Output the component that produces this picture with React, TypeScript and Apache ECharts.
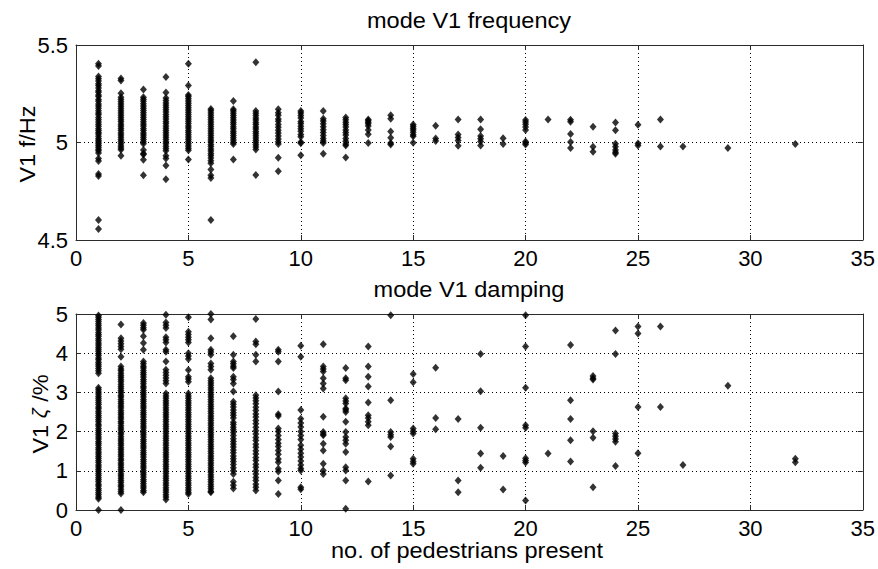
import React, { useEffect, useRef } from "react";
import * as echarts from "echarts";

// x positions (no. of pedestrians present) for each group of readings
const freqColumns = [1, 2, 3, 4, 5, 6, 7, 8, 9, 10, 11, 12, 13, 14, 15, 16, 17, 18, 19, 20, 21, 22, 23, 24, 25, 26, 27, 29, 32];
// mode V1 frequency readings (Hz) per column
const freqValues: number[][] = [
  [5.404, 5.392, 5.338, 5.327, 5.315, 5.301, 5.292, 5.279, 5.266, 5.258, 5.243, 5.236, 5.221, 5.212, 5.198, 5.187, 5.176, 5.163, 5.151, 5.142, 5.128, 5.117, 5.105, 5.094, 5.083, 5.071, 5.062, 5.051, 5.043, 5.032, 5.021, 5.012, 5.003, 4.994, 4.985, 4.976, 4.966, 4.958, 4.946, 4.918, 4.905, 4.838, 4.828, 4.602, 4.556],
  [5.328, 5.318, 5.252, 5.232, 5.221, 5.209, 5.197, 5.186, 5.174, 5.163, 5.151, 5.14, 5.128, 5.117, 5.106, 5.094, 5.083, 5.072, 5.061, 5.049, 5.038, 5.027, 5.016, 5.005, 4.994, 4.982, 4.972, 4.963, 4.932],
  [5.272, 5.232, 5.222, 5.211, 5.199, 5.187, 5.176, 5.164, 5.153, 5.141, 5.13, 5.118, 5.106, 5.095, 5.084, 5.072, 5.061, 5.049, 5.038, 5.027, 5.015, 5.004, 4.993, 4.962, 4.944, 4.938, 4.912, 4.832],
  [5.336, 5.257, 5.228, 5.216, 5.203, 5.191, 5.179, 5.168, 5.156, 5.143, 5.132, 5.12, 5.108, 5.097, 5.085, 5.073, 5.062, 5.05, 5.039, 5.027, 5.016, 5.004, 4.993, 4.981, 4.969, 4.958, 4.932, 4.918, 4.882, 4.812],
  [5.404, 5.292, 5.244, 5.236, 5.225, 5.213, 5.201, 5.19, 5.178, 5.167, 5.155, 5.144, 5.132, 5.12, 5.109, 5.097, 5.085, 5.074, 5.062, 5.051, 5.04, 5.028, 5.017, 5.005, 4.994, 4.982, 4.971, 4.96, 4.913],
  [5.172, 5.163, 5.151, 5.14, 5.128, 5.117, 5.105, 5.094, 5.082, 5.071, 5.059, 5.048, 5.036, 5.025, 5.013, 5.002, 4.99, 4.979, 4.967, 4.956, 4.944, 4.933, 4.921, 4.906, 4.893, 4.862, 4.832, 4.818, 4.602],
  [5.213, 5.171, 5.162, 5.15, 5.139, 5.127, 5.116, 5.104, 5.093, 5.081, 5.07, 5.058, 5.047, 5.036, 5.024, 5.013, 5.001, 4.992, 4.913],
  [5.411, 5.161, 5.15, 5.138, 5.126, 5.115, 5.103, 5.092, 5.08, 5.069, 5.057, 5.046, 5.034, 5.023, 5.011, 5.0, 4.988, 4.977, 4.964, 4.833],
  [5.17, 5.152, 5.14, 5.121, 5.109, 5.092, 5.078, 5.063, 5.049, 5.033, 5.018, 5.004, 4.992, 4.922, 4.852],
  [5.162, 5.151, 5.139, 5.126, 5.108, 5.097, 5.083, 5.071, 5.058, 5.041, 5.029, 5.003, 4.996, 4.935],
  [5.162, 5.122, 5.11, 5.096, 5.081, 5.066, 5.051, 5.036, 5.021, 5.008, 4.998, 4.942],
  [5.128, 5.117, 5.104, 5.092, 5.079, 5.064, 5.051, 5.038, 5.021, 5.006, 4.992, 4.985, 4.923],
  [5.118, 5.111, 5.104, 5.096, 5.085, 5.064, 5.042, 4.998],
  [5.14, 5.122, 5.056, 5.024, 4.997, 4.99],
  [5.092, 5.083, 5.073, 5.064, 5.052, 5.04, 5.032, 4.999],
  [5.086, 5.021, 5.008],
  [5.118, 5.041, 5.026, 5.01, 4.983],
  [5.118, 5.068, 5.033, 5.019, 5.005, 4.985],
  [5.022, 4.992],
  [5.115, 5.105, 5.094, 5.08, 5.064, 5.005, 4.998, 4.99],
  [5.118],
  [5.117, 5.106, 5.043, 5.002, 4.972],
  [5.081, 4.978, 4.953],
  [5.103, 5.063, 4.993, 4.978, 4.962, 4.95, 4.942],
  [5.091, 4.995, 4.985],
  [5.118, 4.98],
  [4.98],
  [4.972],
  [4.992],
];

const dampColumns = [1, 2, 3, 4, 5, 6, 7, 8, 9, 10, 11, 12, 13, 14, 15, 16, 17, 18, 19, 20, 21, 22, 23, 24, 25, 26, 27, 29, 32];
// mode V1 damping readings (%) per column
const dampValues: number[][] = [
  [4.96, 4.92, 4.86, 4.81, 4.75, 4.7, 4.64, 4.59, 4.53, 4.48, 4.43, 4.37, 4.32, 4.26, 4.21, 4.15, 4.1, 4.05, 3.99, 3.94, 3.88, 3.83, 3.77, 3.72, 3.67, 3.61, 3.55, 3.49, 3.12, 3.07, 3.01, 2.96, 2.9, 2.85, 2.8, 2.74, 2.69, 2.63, 2.58, 2.52, 2.47, 2.41, 2.36, 2.3, 2.25, 2.19, 2.14, 2.08, 2.03, 1.97, 1.92, 1.86, 1.81, 1.75, 1.7, 1.65, 1.59, 1.54, 1.48, 1.43, 1.37, 1.32, 1.26, 1.21, 1.15, 1.1, 1.04, 0.99, 0.93, 0.88, 0.82, 0.77, 0.72, 0.66, 0.61, 0.55, 0.5, 0.44, 0.39, 0.33, 0.29, 0.0],
  [4.73, 4.38, 4.31, 4.24, 4.17, 4.1, 3.91, 3.66, 3.6, 3.55, 3.49, 3.43, 3.38, 3.32, 3.27, 3.21, 3.15, 3.1, 3.04, 2.99, 2.93, 2.88, 2.82, 2.76, 2.71, 2.65, 2.6, 2.54, 2.48, 2.43, 2.37, 2.32, 2.26, 2.21, 2.15, 2.09, 2.04, 1.98, 1.93, 1.87, 1.81, 1.76, 1.7, 1.65, 1.59, 1.54, 1.48, 1.42, 1.37, 1.31, 1.26, 1.2, 1.15, 1.09, 1.03, 0.98, 0.92, 0.87, 0.81, 0.75, 0.7, 0.64, 0.59, 0.53, 0.47, 0.42, 0.0],
  [4.77, 4.71, 4.65, 4.6, 4.43, 4.26, 4.09, 3.79, 3.73, 3.67, 3.62, 3.56, 3.5, 3.45, 3.39, 3.33, 3.28, 3.22, 3.16, 3.11, 3.05, 2.99, 2.94, 2.88, 2.82, 2.77, 2.71, 2.65, 2.6, 2.54, 2.48, 2.43, 2.37, 2.31, 2.26, 2.2, 2.14, 2.09, 2.03, 1.97, 1.92, 1.86, 1.8, 1.75, 1.69, 1.63, 1.58, 1.52, 1.46, 1.41, 1.35, 1.29, 1.24, 1.18, 1.12, 1.07, 1.01, 0.95, 0.9, 0.84, 0.78, 0.73, 0.67, 0.61, 0.56, 0.5, 0.45],
  [4.98, 4.78, 4.71, 4.64, 4.41, 4.34, 4.27, 4.09, 4.04, 3.79, 3.58, 3.51, 3.44, 3.37, 3.3, 3.23, 2.97, 2.91, 2.85, 2.79, 2.73, 2.67, 2.61, 2.55, 2.49, 2.43, 2.37, 2.31, 2.25, 2.19, 2.13, 2.07, 2.01, 1.95, 1.89, 1.83, 1.77, 1.71, 1.65, 1.59, 1.53, 1.47, 1.41, 1.35, 1.29, 1.23, 1.17, 1.11, 1.05, 0.99, 0.93, 0.87, 0.81, 0.75, 0.69, 0.63, 0.57, 0.51, 0.45, 0.39, 0.33, 0.27],
  [4.92, 4.55, 4.48, 4.41, 4.34, 4.27, 4.0, 3.93, 3.85, 3.57, 3.4, 3.34, 3.27, 2.97, 2.91, 2.85, 2.79, 2.73, 2.67, 2.61, 2.55, 2.49, 2.43, 2.37, 2.31, 2.25, 2.19, 2.13, 2.07, 2.01, 1.95, 1.89, 1.83, 1.77, 1.71, 1.65, 1.59, 1.53, 1.47, 1.41, 1.35, 1.29, 1.23, 1.17, 1.11, 1.05, 0.99, 0.93, 0.87, 0.81, 0.75, 0.69, 0.63, 0.57, 0.51, 0.45, 0.41],
  [5.0, 4.86, 4.38, 4.09, 4.03, 3.96, 3.74, 3.66, 3.58, 3.36, 3.3, 3.24, 3.18, 3.12, 3.06, 3.0, 2.94, 2.88, 2.82, 2.76, 2.7, 2.64, 2.58, 2.52, 2.46, 2.4, 2.34, 2.28, 2.22, 2.16, 2.1, 2.04, 1.98, 1.92, 1.86, 1.8, 1.74, 1.68, 1.62, 1.56, 1.5, 1.44, 1.38, 1.32, 1.26, 1.2, 1.14, 1.08, 1.02, 0.96, 0.9, 0.84, 0.78, 0.72, 0.66, 0.6, 0.54, 0.48, 0.45],
  [4.43, 3.96, 3.79, 3.73, 3.67, 3.62, 3.4, 3.33, 3.23, 3.02, 2.76, 2.7, 2.63, 2.55, 2.48, 2.42, 2.35, 2.24, 2.18, 2.11, 2.05, 1.98, 1.9, 1.82, 1.75, 1.68, 1.61, 1.53, 1.46, 1.38, 1.31, 1.24, 1.16, 1.08, 1.0, 0.92, 0.72, 0.63, 0.55],
  [4.87, 4.3, 4.23, 3.96, 3.79, 2.93, 2.86, 2.79, 2.71, 2.62, 2.54, 2.45, 2.37, 2.28, 2.2, 2.11, 2.02, 1.94, 1.85, 1.77, 1.68, 1.6, 1.51, 1.43, 1.34, 1.26, 1.17, 1.09, 1.0, 0.92, 0.83, 0.75, 0.66, 0.58, 0.5],
  [4.09, 4.04, 3.79, 3.02, 2.44, 2.4, 2.08, 2.0, 1.9, 1.8, 1.7, 1.62, 1.52, 1.42, 1.3, 1.22, 1.05, 0.98, 0.75, 0.41],
  [4.19, 3.91, 2.55, 2.33, 2.22, 2.12, 2.0, 1.9, 1.8, 1.65, 1.55, 1.45, 1.35, 1.25, 1.15, 1.06, 1.01, 0.58, 0.53],
  [4.23, 3.66, 3.6, 3.53, 3.36, 3.23, 3.1, 2.38, 1.99, 1.94, 1.91, 1.69, 1.52, 1.18, 1.01, 0.92],
  [3.62, 3.36, 3.31, 2.85, 2.78, 2.72, 2.59, 2.55, 2.5, 2.25, 1.99, 1.86, 1.78, 1.69, 1.48, 1.09, 1.01, 0.75, 0.03],
  [4.17, 3.66, 3.4, 3.15, 2.74, 2.42, 2.35, 2.25, 2.16, 0.73],
  [4.97, 2.8, 1.99, 1.92, 1.86, 1.62, 0.88],
  [3.47, 3.26, 2.08, 2.01, 1.95, 1.31, 1.24, 1.18],
  [3.63, 2.35, 2.06],
  [2.32, 0.75, 0.45],
  [3.98, 3.03, 2.1, 1.44, 1.08],
  [1.38, 0.52],
  [4.97, 4.17, 3.12, 2.16, 2.1, 1.32, 1.26, 1.21, 0.24],
  [1.44],
  [4.21, 2.8, 2.32, 1.78, 1.24],
  [3.42, 3.36, 3.33, 2.01, 1.84, 0.58],
  [4.58, 3.98, 1.95, 1.88, 1.81, 1.74, 1.12],
  [4.68, 4.5, 2.63, 1.45],
  [4.68, 2.63],
  [1.15],
  [3.17],
  [1.31, 1.22],
];

const xTicks = { min: 0, max: 35, interval: 5 };
const freqTicks = { min: 4.5, max: 5.5, interval: 0.5 };
const dampTicks = { min: 0, max: 5, interval: 1 };

const FONT = "Liberation Sans, Arial, sans-serif";
const AXIS_COLOR = "#2b2b2b";
const STRETCH = 1.07;

function toPoints(cols: number[], vals: number[][]) {
  const out: number[][] = [];
  cols.forEach((x, i) => vals[i].forEach((v) => out.push([x, v])));
  return out;
}

function label(text: string, x: number, y: number, rotation = 0, rich?: any) {
  return {
    type: "text",
    x,
    y,
    rotation,
    scaleX: STRETCH,
    style: {
      text,
      fill: "#000",
      fontSize: 22,
      fontFamily: FONT,
      textAlign: "center",
      textVerticalAlign: "middle",
      ...(rich ? { rich } : {}),
    },
  };
}

export default function App() {
  const ref = useRef<HTMLDivElement>(null);
  useEffect(() => {
    if (!ref.current) return;
    const chart = echarts.init(ref.current, null, { renderer: "svg" });
    const mainX = (gridIndex: number) => ({
      type: "value",
      gridIndex,
      ...xTicks,
      position: "bottom",
      axisLine: { show: true, onZero: false, lineStyle: { color: AXIS_COLOR, width: 1 } },
      axisTick: { show: true, inside: true, length: 5, lineStyle: { color: AXIS_COLOR } },
      axisLabel: { show: true, color: "#000", fontSize: 22, fontFamily: FONT, margin: 7 },
      splitLine: { show: true, lineStyle: { color: "#000", width: 1, type: [1, 3] } },
    });
    const topX = (gridIndex: number) => ({
      type: "value",
      gridIndex,
      ...xTicks,
      position: "top",
      axisLine: { show: true, onZero: false, lineStyle: { color: AXIS_COLOR, width: 1 } },
      axisTick: { show: true, inside: true, length: 5, lineStyle: { color: AXIS_COLOR } },
      axisLabel: { show: false },
      splitLine: { show: false },
    });
    const mainY = (gridIndex: number, ticks: any) => ({
      type: "value",
      gridIndex,
      ...ticks,
      position: "left",
      axisLine: { show: true, onZero: false, lineStyle: { color: AXIS_COLOR, width: 1 } },
      axisTick: { show: true, inside: true, length: 5, lineStyle: { color: AXIS_COLOR } },
      axisLabel: { show: true, color: "#000", fontSize: 22, fontFamily: FONT, margin: 8 },
      splitLine: { show: true, lineStyle: { color: "#000", width: 1, type: [1, 3] } },
    });
    const rightY = (gridIndex: number, ticks: any) => ({
      type: "value",
      gridIndex,
      ...ticks,
      position: "right",
      axisLine: { show: true, onZero: false, lineStyle: { color: AXIS_COLOR, width: 1 } },
      axisTick: { show: true, inside: true, length: 5, lineStyle: { color: AXIS_COLOR } },
      axisLabel: { show: false },
      splitLine: { show: false },
    });
    const markerStyle = {
      symbol: "diamond",
      symbolSize: [7, 8],
      itemStyle: { color: "#000" },
    };
    chart.setOption({
      animation: false,
      backgroundColor: "#fff",
      graphic: [
        label("mode V1 frequency", 469, 20),
        label("mode V1 damping", 469, 289),
        label("no. of pedestrians present", 467, 550),
        label("V1 f/Hz", 27, 144, Math.PI / 2),
        label("V1 {z|ζ} /%", 40, 414, Math.PI / 2, {
          z: { fontSize: 20, fontStyle: "italic", fontFamily: FONT, fill: "#000" },
        }),
      ],
      grid: [
        { left: 76, top: 45, width: 790, height: 195, containLabel: false },
        { left: 76, top: 314, width: 790, height: 196, containLabel: false },
      ],
      xAxis: [mainX(0), topX(0), mainX(1), topX(1)],
      yAxis: [mainY(0, freqTicks), rightY(0, freqTicks), mainY(1, dampTicks), rightY(1, dampTicks)],
      series: [
        { type: "scatter", xAxisIndex: 0, yAxisIndex: 0, data: toPoints(freqColumns, freqValues), ...markerStyle },
        { type: "scatter", xAxisIndex: 2, yAxisIndex: 2, data: toPoints(dampColumns, dampValues), ...markerStyle },
      ],
    });
    return () => chart.dispose();
  }, []);
  return <div ref={ref} style={{ position: "fixed", left: 0, top: 0, width: 878, height: 569 }} />;
}
